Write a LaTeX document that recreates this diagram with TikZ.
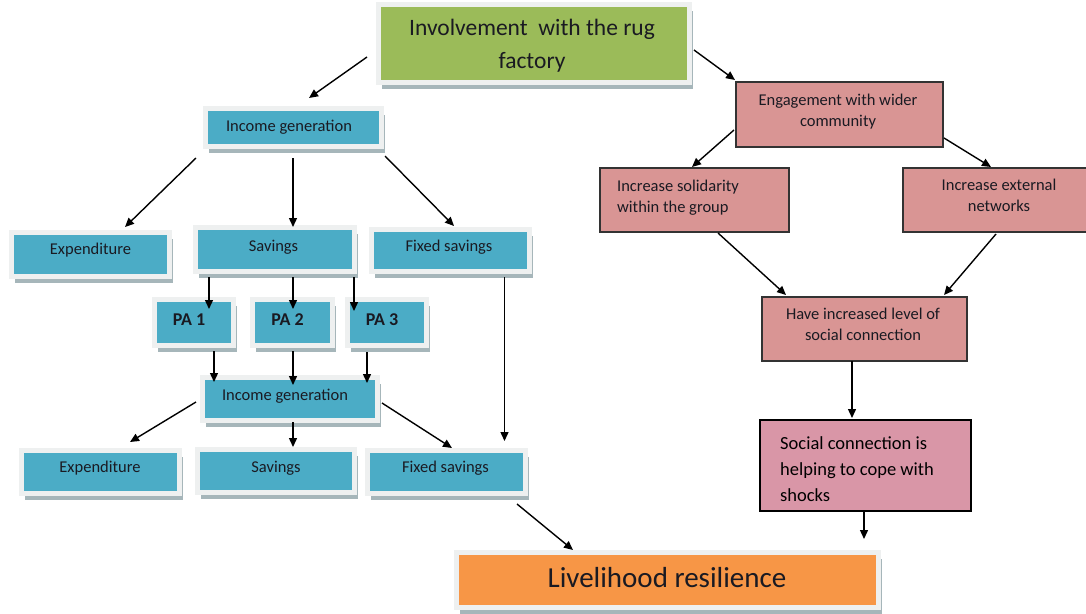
\documentclass[tikz,border=0pt]{standalone}
\usepackage{fontspec}
\setmainfont{Carlito}
\usetikzlibrary{arrows.meta,shadows,calc}
\definecolor{bluec}{HTML}{4BACC6}
\definecolor{greenc}{HTML}{9BBB59}
\definecolor{orangec}{HTML}{F79646}
\definecolor{pinkc}{HTML}{D99594}
\definecolor{socc}{HTML}{D996A7}
\definecolor{framec}{HTML}{EEF0F0}
\definecolor{shadc}{HTML}{A6B6BA}
\definecolor{pinkline}{HTML}{333333}
\definecolor{txtc}{HTML}{1A1A22}
\newcommand{\btxt}[4][c]{\hspace*{#2}\raisebox{#3}[0pt][0pt]{\begin{tabular}{@{}#1@{}}#4\end{tabular}}}
\tikzset{
  frame/.style={draw=framec, line width=5pt, inner sep=0pt, outer sep=0pt,
    drop shadow={shadow xshift=3.5pt, shadow yshift=-6pt, fill=shadc, opacity=1}},
  bluebox/.style={frame, fill=bluec, text=txtc, font=\fontsize{16.5}{21}\selectfont},
  pabox/.style={bluebox, font=\bfseries\fontsize{18}{22}\selectfont},
  greenbox/.style={frame, fill=greenc, text=txtc, font=\fontsize{23.5}{33}\selectfont},
  orangebox/.style={frame, fill=orangec, text=txtc, font=\fontsize{29}{35}\selectfont},
  pinkbox/.style={draw=pinkline, line width=1.3pt, fill=pinkc, inner sep=0pt, outer sep=0pt,
    text=txtc, font=\fontsize{16.5}{21}\selectfont},
  socbox/.style={draw=black, line width=2.2pt, fill=socc, inner sep=0pt, outer sep=0pt,
    text=black, font=\fontsize{18.5}{26}\selectfont},
  arr/.style={-{Triangle[length=9pt,width=8pt]}, line width=1.4pt, black}
}
\begin{document}
\begin{tikzpicture}[x=1pt,y=-1pt]
\fill[white] (0,0) rectangle (1086,613);
\useasboundingbox (0,0) rectangle (1086,613);
% left branch
\node[greenbox, minimum width=311pt, minimum height=78pt] (inv) at (534,43.5) {\btxt{-4pt}{-7.8pt}{Involvement\ \ with the rug\\factory}};
\node[bluebox, minimum width=176pt, minimum height=38pt] (ig1) at (293.5,127.5) {\btxt{-9pt}{-4.4pt}{Income generation}};
\node[bluebox, minimum width=158pt, minimum height=44pt] (exp1) at (90.5,254.5) {\btxt{0pt}{0.3pt}{Expenditure}};
\node[bluebox, minimum width=159pt, minimum height=44pt] (sav1) at (275,249.5) {\btxt{-3pt}{-2.4pt}{Savings}};
\node[bluebox, minimum width=158pt, minimum height=42pt] (fix1) at (450.5,250.5) {\btxt{-3pt}{-1.4pt}{Fixed savings}};
\node[pabox, minimum width=79pt, minimum height=46pt] (pa1) at (194,322.5) {\btxt{-10pt}{-3.4pt}{PA 1}};
\node[pabox, minimum width=80pt, minimum height=46pt] (pa2) at (292.5,322.5) {\btxt{-10pt}{-3.4pt}{PA 2}};
\node[pabox, minimum width=79pt, minimum height=46pt] (pa3) at (387,322.5) {\btxt{-10pt}{-3.4pt}{PA 3}};
\node[bluebox, minimum width=175pt, minimum height=43pt] (ig2) at (290,399) {\btxt{-10pt}{-1.2pt}{Income generation}};
\node[bluebox, minimum width=158pt, minimum height=43pt] (exp2) at (100,472) {\btxt{0pt}{-0.5pt}{Expenditure}};
\node[bluebox, minimum width=157pt, minimum height=43pt] (sav2) at (276,471) {\btxt{0pt}{-1.5pt}{Savings}};
\node[bluebox, minimum width=158pt, minimum height=43pt] (fix2) at (446.5,472) {\btxt{-2pt}{-0.5pt}{Fixed savings}};
\node[orangebox, minimum width=422pt, minimum height=55pt] (liv) at (667,580) {\btxt{0pt}{-6.5pt}{Livelihood resilience}};
% right branch
\node[pinkbox, minimum width=207pt, minimum height=65pt] (eng) at (839.5,114.5) {\btxt{-3pt}{-1.2pt}{Engagement with wider\\community}};
\node[pinkbox, minimum width=189pt, minimum height=64pt] (sol) at (694.5,200) {\btxt[l]{-33pt}{-1.7pt}{Increase solidarity\\within the group}};
\node[pinkbox, minimum width=187pt, minimum height=64pt] (ext) at (996.5,200) {\btxt{5pt}{-1pt}{Increase external\\networks}};
\node[pinkbox, minimum width=205pt, minimum height=64pt] (have) at (864.5,329) {\btxt{-3pt}{-0.7pt}{Have increased level of\\social connection}};
\node[socbox, minimum width=211pt, minimum height=91pt] (soc) at (865.5,465.5) {\btxt[l]{-17pt}{-8.85pt}{Social connection is\\helping to cope with\\shocks}};
% connectors
\draw[arr] ($(inv.center)+(-167,13.5)$) -- ($(ig1.center)+(15.5,-29.5)$);
\draw[arr] ($(inv.center)+(160,6.5)$) -- ($(eng.center)+(-104.5,-34.5)$);
\draw[arr] ($(ig1.center)+(-97.5,30.5)$) -- ($(exp1.center)+(34.5,-27.5)$);
\draw[arr] ($(ig1.center)+(-0.5,30.5)$) -- ($(sav1.center)+(18,-22.5)$);
\draw[arr] ($(ig1.center)+(91.5,28.5)$) -- ($(fix1.center)+(3.5,-24.5)$);
\draw[arr] ($(sav1.center)+(-66,27.5)$) -- ($(pa1.center)+(15,-13.5)$);
\draw[arr] ($(sav1.center)+(18,27.5)$) -- ($(pa2.center)+(0.5,-13.5)$);
\draw[arr] ($(sav1.center)+(79,27.5)$) -- ($(pa3.center)+(-33,-11.5)$);
\draw[arr] ($(pa1.center)+(20,28.5)$) -- ($(ig2.center)+(-76,-17)$);
\draw[arr] ($(pa2.center)+(0.5,28.5)$) -- ($(ig2.center)+(3,-14)$);
\draw[arr] ($(pa3.center)+(-20,29.5)$) -- ($(ig2.center)+(77,-16)$);
\draw[arr] ($(ig2.center)+(-94,3)$) -- ($(exp2.center)+(30,-30)$);
\draw[arr] ($(ig2.center)+(3,23)$) -- ($(sav2.center)+(17,-24)$);
\draw[arr] ($(ig2.center)+(92,4)$) -- ($(fix2.center)+(5.5,-24)$);
\draw[arr] ($(fix1.center)+(54,26.5)$) -- ($(fix2.center)+(58,-31)$);
\draw[arr] ($(fix2.center)+(70.5,32)$) -- ($(liv.center)+(-94,-30)$);
\draw[arr] ($(eng.center)+(-105.5,15.5)$) -- ($(sol.center)+(-2.5,-33)$);
\draw[arr] ($(eng.center)+(104.5,23.5)$) -- ($(ext.center)+(-5.5,-33)$);
\draw[arr] ($(sol.center)+(23.5,33)$) -- ($(have.center)+(-78.5,-34)$);
\draw[arr] ($(ext.center)+(-0.5,34)$) -- ($(have.center)+(79.5,-34)$);
\draw[arr] ($(have.center)+(-12.5,32)$) -- ($(soc.center)+(-13.5,-47.5)$);
\draw[arr] ($(soc.center)+(-1.5,45.5)$) -- ($(liv.center)+(197,-41)$);
\end{tikzpicture}
\end{document}
